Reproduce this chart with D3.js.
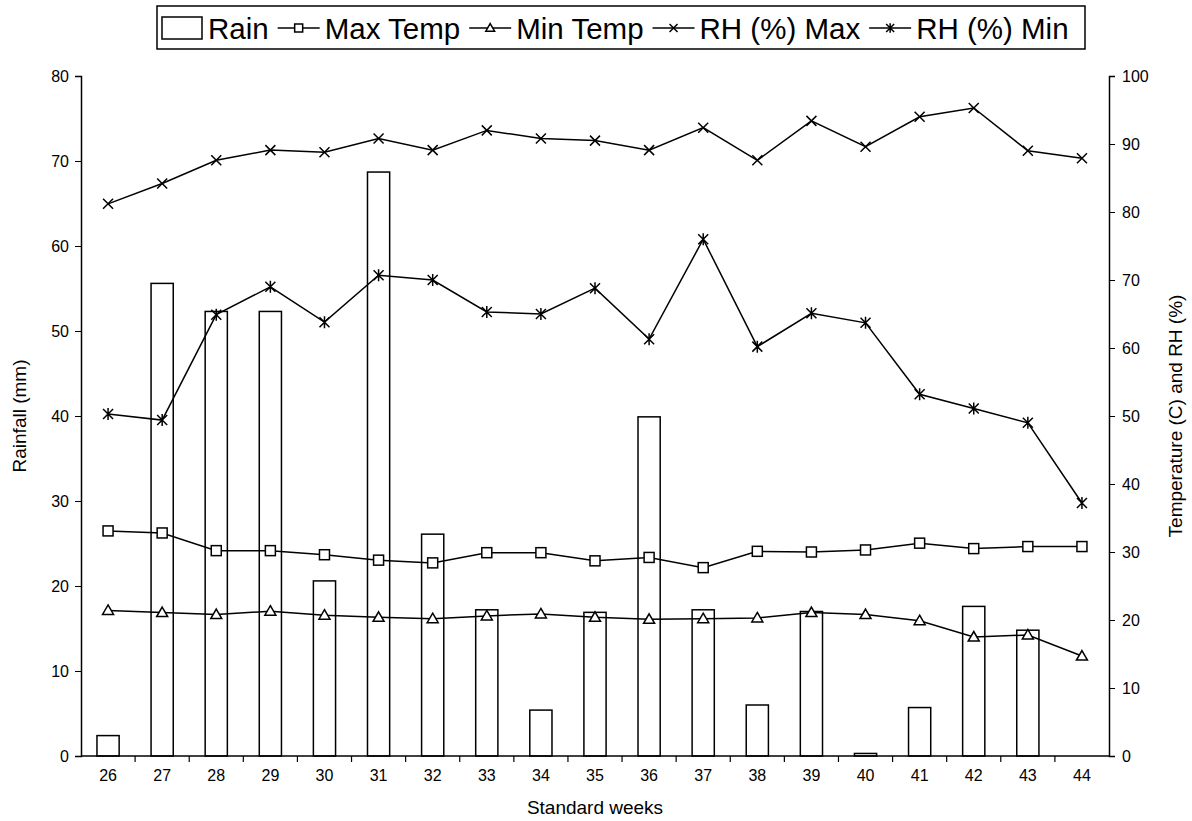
<!DOCTYPE html>
<html>
<head>
<meta charset="utf-8">
<script src="https://cdn.jsdelivr.net/npm/d3@7"></script>
<style>
  body { margin: 0; background: #fff; }
  svg text { font-family: "Liberation Sans", Arial, sans-serif; fill: #000; }
</style>
</head>
<body>
<div id="chart"></div>
<script>
// data
const weeks = [26, 27, 28, 29, 30, 31, 32, 33, 34, 35, 36, 37, 38, 39, 40, 41, 42, 43, 44];
const rain = [2.4, 55.6, 52.3, 52.3, 20.6, 68.7, 26.1, 17.2, 5.4, 16.9, 39.9, 17.2, 6.0, 17.0, 0.3, 5.7, 17.6, 14.8, 0];
const maxTemp = [33.1, 32.8, 30.2, 30.2, 29.6, 28.8, 28.4, 29.9, 29.9, 28.7, 29.2, 27.7, 30.1, 30.0, 30.3, 31.3, 30.5, 30.8, 30.8];
const minTemp = [21.4, 21.1, 20.8, 21.3, 20.7, 20.4, 20.2, 20.6, 20.9, 20.4, 20.1, 20.2, 20.3, 21.1, 20.8, 19.9, 17.5, 17.8, 14.7];
const rhMax = [81.2, 84.2, 87.6, 89.1, 88.8, 90.8, 89.1, 92.0, 90.8, 90.5, 89.1, 92.4, 87.6, 93.4, 89.6, 94.0, 95.3, 89.0, 87.9];
const rhMin = [50.3, 49.4, 64.9, 69.0, 63.8, 70.7, 70.0, 65.3, 65.0, 68.8, 61.3, 76.0, 60.2, 65.1, 63.7, 53.2, 51.1, 49.0, 37.2];
const leftTicks = [0, 10, 20, 30, 40, 50, 60, 70, 80];
const rightTicks = [0, 10, 20, 30, 40, 50, 60, 70, 80, 90, 100];

const W = 1192, H = 821;
const m = { left: 81, right: 83, top: 76, bottom: 65 };

const svg = d3.select("#chart").append("svg")
  .attr("width", W).attr("height", H);

const x = d3.scaleBand().domain(weeks).range([m.left, W - m.right]).padding(0);
const yL = d3.scaleLinear().domain([0, 80]).range([H - m.bottom, m.top]);
const yR = d3.scaleLinear().domain([0, 100]).range([H - m.bottom, m.top]);
const cx = d => x(d) + x.bandwidth() / 2;
const barW = x.bandwidth() * 0.41;

// bars
svg.append("g").selectAll("rect")
  .data(weeks.map((w, i) => [w, rain[i]]).filter(d => d[1] > 0))
  .enter().append("rect")
  .attr("x", d => cx(d[0]) - barW / 2)
  .attr("y", d => yL(d[1]))
  .attr("width", barW)
  .attr("height", d => yL(0) - yL(d[1]))
  .attr("fill", "#fff")
  .attr("stroke", "#000")
  .attr("stroke-width", 1.5);

// marker shapes, r = half size
function marker(g, type, px, py, r = 5) {
  if (type === "square") {
    g.append("rect").attr("x", px - r).attr("y", py - r).attr("width", 2 * r).attr("height", 2 * r)
      .attr("fill", "#fff").attr("stroke", "#000").attr("stroke-width", 1.5);
  } else if (type === "triangle") {
    g.append("path").attr("d", `M${px},${py - r * 1.1}L${px + r * 1.1},${py + r * 0.8}L${px - r * 1.1},${py + r * 0.8}Z`)
      .attr("fill", "#fff").attr("stroke", "#000").attr("stroke-width", 1.5);
  } else if (type === "x") {
    g.append("path").attr("d", `M${px - r},${py - r}L${px + r},${py + r}M${px - r},${py + r}L${px + r},${py - r}`)
      .attr("stroke", "#000").attr("stroke-width", 1.5);
  } else if (type === "star") {
    g.append("path").attr("d", `M${px - r},${py - r}L${px + r},${py + r}M${px - r},${py + r}L${px + r},${py - r}M${px},${py - r * 1.2}L${px},${py + r * 1.2}`)
      .attr("stroke", "#000").attr("stroke-width", 1.5);
  }
}

const series = [
  { name: "Max Temp", values: maxTemp, type: "square" },
  { name: "Min Temp", values: minTemp, type: "triangle" },
  { name: "RH (%) Max", values: rhMax, type: "x" },
  { name: "RH (%) Min", values: rhMin, type: "star" }
];

const line = d3.line().x(d => cx(d[0])).y(d => yR(d[1]));

series.forEach(s => {
  const pts = weeks.map((w, i) => [w, s.values[i]]);
  const g = svg.append("g");
  g.append("path").datum(pts).attr("d", line)
    .attr("fill", "none").attr("stroke", "#000").attr("stroke-width", 1.5);
  pts.forEach(p => marker(g, s.type, cx(p[0]), yR(p[1])));
});

// axes
const xAxis = svg.append("g")
  .attr("transform", `translate(0,${H - m.bottom})`)
  .call(d3.axisBottom(x).tickSize(0).tickPadding(14));
xAxis.select(".domain").attr("d", `M${m.left},0H${W - m.right}`).attr("stroke-width", 1.5);
xAxis.selectAll("text").attr("font-size", 16);
xAxis.selectAll("line.sep")
  .data(weeks.slice(1))
  .enter().append("line").attr("class", "sep")
  .attr("x1", d => x(d)).attr("x2", d => x(d))
  .attr("y1", 0).attr("y2", 6)
  .attr("stroke", "#000").attr("stroke-width", 1.2);

const lAxis = svg.append("g")
  .attr("transform", `translate(${m.left},0)`)
  .call(d3.axisLeft(yL).tickValues(leftTicks).tickSizeOuter(0).tickSize(6).tickPadding(6));
lAxis.selectAll("text").attr("font-size", 16);
lAxis.select(".domain").attr("stroke-width", 1.5);

const rAxis = svg.append("g")
  .attr("transform", `translate(${W - m.right},0)`)
  .call(d3.axisRight(yR).tickValues(rightTicks).tickSizeOuter(0).tickSize(6).tickPadding(7));
rAxis.selectAll("text").attr("font-size", 16);
rAxis.select(".domain").attr("stroke-width", 1.5);

// axis titles
svg.append("text").attr("x", (m.left + W - m.right) / 2).attr("y", 814)
  .attr("text-anchor", "middle").attr("font-size", 19).text("Standard weeks");
svg.append("text").attr("transform", `translate(26,${(H - m.bottom + m.top) / 2}) rotate(-90)`)
  .attr("text-anchor", "middle").attr("font-size", 19).text("Rainfall (mm)");
svg.append("text").attr("transform", `translate(1182,${(H - m.bottom + m.top) / 2}) rotate(-90)`)
  .attr("text-anchor", "middle").attr("font-size", 19).text("Temperature (C) and RH (%)");

// legend
const lg = svg.append("g");
lg.append("rect").attr("x", 157).attr("y", 6).attr("width", 928).attr("height", 43)
  .attr("fill", "#fff").attr("stroke", "#000").attr("stroke-width", 1.5);
let lx = 162;
const ly = 28;
function legendText(label) {
  const t = lg.append("text").attr("x", lx).attr("y", ly + 11)
    .attr("font-size", 29.5).text(label);
  lx += t.node().getComputedTextLength() + 9;
}
lg.append("rect").attr("x", lx).attr("y", ly - 11).attr("width", 40).attr("height", 22)
  .attr("fill", "#fff").attr("stroke", "#000").attr("stroke-width", 1.5);
lx += 46;
legendText("Rain");
series.forEach(s => {
  lg.append("line").attr("x1", lx).attr("x2", lx + 42).attr("y1", ly).attr("y2", ly)
    .attr("stroke", "#000").attr("stroke-width", 1.5);
  marker(lg, s.type, lx + 21, ly, 4);
  lx += 47;
  legendText(s.name);
});
</script>
</body>
</html>
